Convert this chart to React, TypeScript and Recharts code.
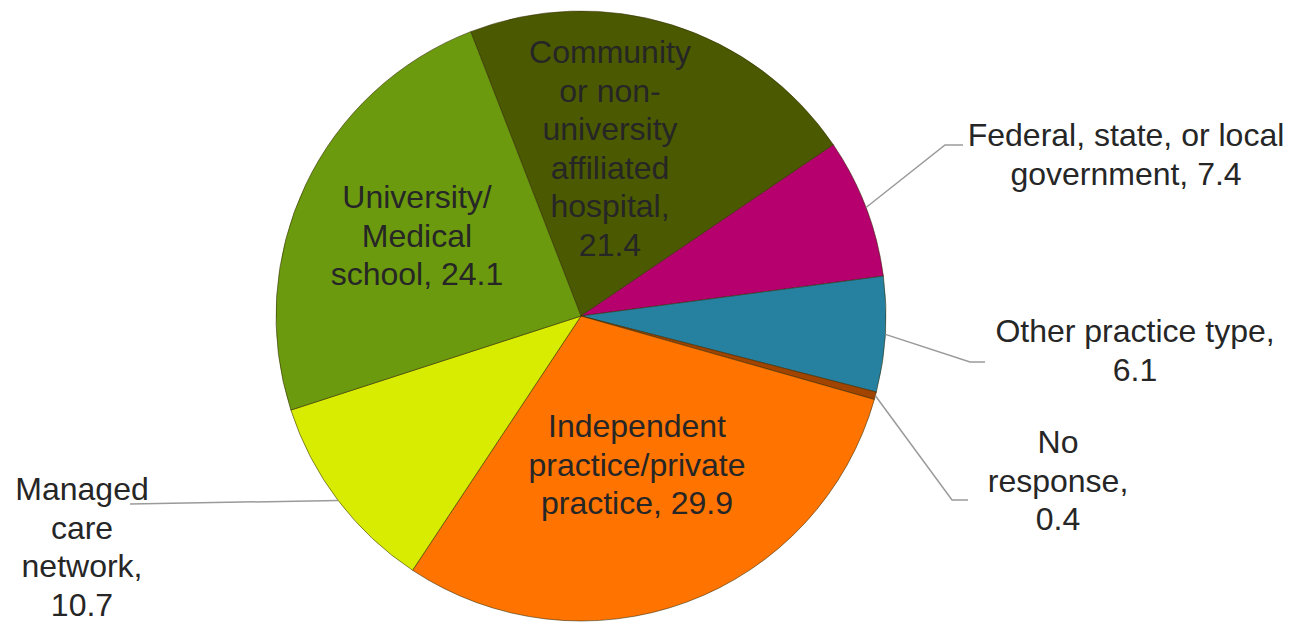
import { PieChart, Pie, Cell } from "recharts";

// practice setting shares (%), clockwise from the top-left
const categories = [
  "Community or non-university affiliated hospital",
  "Federal, state, or local government",
  "Other practice type",
  "No response",
  "Independent practice/private practice",
  "Managed care network",
  "University/Medical school",
];
const shares = [21.4, 7.4, 6.1, 0.4, 29.9, 10.7, 24.1];
const sliceColors = ["#4b5a00", "#b6006e", "#2681a1", "#a04400", "#ff7300", "#d7ec00", "#6c9a0e"];

// how Excel wrapped each data label ({v} = value)
const labelLines = [
  ["Community", "or non-", "university", "affiliated", "hospital,", "{v}"],
  ["Federal, state, or local", "government, {v}"],
  ["Other practice type,", "{v}"],
  ["No", "response,", "{v}"],
  ["Independent", "practice/private", "practice, {v}"],
  ["Managed", "care", "network,", "{v}"],
  ["University/", "Medical", "school, {v}"],
];

// label placement relative to the pie centre; elbow/tail only for outside labels
const labelLayout = [
  { tx: 29, ty: -253 },
  { tx: 545, ty: -170, elbow: [364, -171], tail: [382, -171] },
  { tx: 554, ty: 26, elbow: [389, 46], tail: [404, 46] },
  { tx: 477, ty: 137, elbow: [371, 184], tail: [387, 184] },
  { tx: 56, ty: 121 },
  { tx: -499, ty: 184, elbow: [-451, 188], tail: [-451, 188] },
  { tx: -164, ty: -108 },
];

const data = categories.map((name, i) => ({ name, value: shares[i] }));

const RAD = Math.PI / 180;
const LINE_H = 38.5;

const renderLabel = (props: any) => {
  const { cx, cy, midAngle, outerRadius, index, value } = props;
  const lay = labelLayout[index];
  const lines = labelLines[index].map((l) => l.replace("{v}", Number(value).toFixed(1)));
  let leader = null;
  if (lay.elbow) {
    const sx = cx + outerRadius * Math.cos(-midAngle * RAD);
    const sy = cy + outerRadius * Math.sin(-midAngle * RAD);
    const pts = [
      [sx, sy],
      [cx + lay.elbow[0], cy + lay.elbow[1]],
      [cx + lay.tail![0], cy + lay.tail![1]],
    ];
    leader = (
      <polyline
        points={pts.map((p) => p.join(",")).join(" ")}
        fill="none"
        stroke="#9a9a9a"
        strokeWidth={1.5}
      />
    );
  }
  const x = cx + lay.tx;
  return (
    <g key={`lbl-${index}`}>
      {leader}
      <text
        x={x}
        y={cy + lay.ty}
        textAnchor="middle"
        fill="#262626"
        fontSize={32}
        fontFamily="'Liberation Sans', Arial, sans-serif"
      >
        {lines.map((l, i) => (
          <tspan key={i} x={x} dy={i === 0 ? 0 : LINE_H}>
            {l}
          </tspan>
        ))}
      </text>
    </g>
  );
};

export default function App() {
  return (
    <div style={{ position: "absolute", left: 0, top: 0, width: 1291, height: 624, background: "#fff" }}>
      <PieChart width={1291} height={624} margin={{ top: 0, right: 0, bottom: 0, left: 0 }}>
        <Pie
          data={data}
          dataKey="value"
          nameKey="name"
          cx={581}
          cy={316}
          outerRadius={305}
          startAngle={111.2}
          endAngle={-248.8}
          label={renderLabel}
          labelLine={false}
          isAnimationActive={false}
        >
          {data.map((d, i) => (
            <Cell key={d.name} fill={sliceColors[i]} stroke="rgba(50,40,0,0.55)" strokeWidth={1} />
          ))}
        </Pie>
      </PieChart>
    </div>
  );
}
